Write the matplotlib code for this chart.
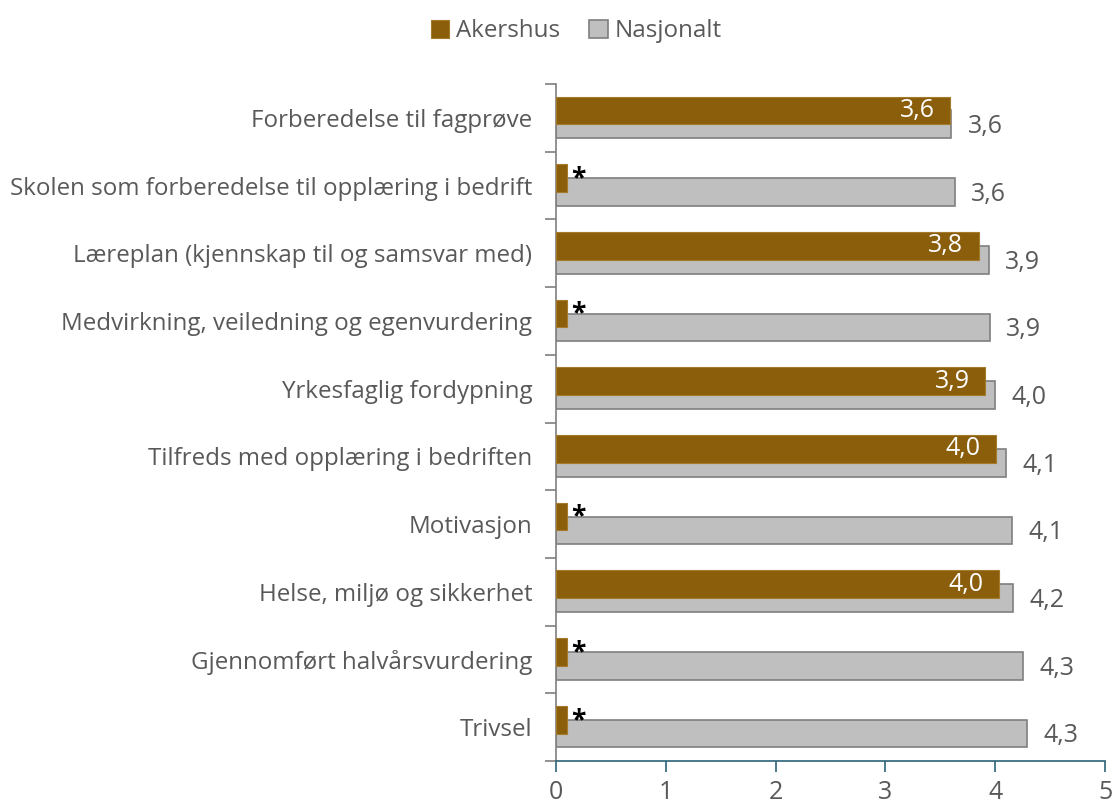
import matplotlib.pyplot as plt
import numpy as np

plt.rcParams['font.family'] = ['Open Sans', 'DejaVu Sans']

kategorier = [
    'Forberedelse til fagprøve',
    'Skolen som forberedelse til opplæring i bedrift',
    'Læreplan (kjennskap til og samsvar med)',
    'Medvirkning, veiledning og egenvurdering',
    'Yrkesfaglig fordypning',
    'Tilfreds med opplæring i bedriften',
    'Motivasjon',
    'Helse, miljø og sikkerhet',
    'Gjennomført halvårsvurdering',
    'Trivsel',
]
# None = for få svar (vises som *)
akershus = [3.59, None, 3.85, None, 3.91, 4.01, None, 4.03, None, None]
nasjonalt = [3.60, 3.63, 3.94, 3.95, 4.00, 4.10, 4.15, 4.16, 4.25, 4.29]
nasjonalt_tekst = ['3,6', '3,6', '3,9', '3,9', '4,0', '4,1', '4,1', '4,2', '4,3', '4,3']
akershus_tekst = ['3,6', '*', '3,8', '*', '3,9', '4,0', '*', '4,0', '*', '*']
stjerne_verdi = 0.1

gull = '#8B5E0C'
graa = '#BFBFBF'
tekstfarge = '#595959'
fs = 17.4

fig = plt.figure(figsize=(11.15, 8.06), dpi=100)
ax = fig.add_axes([0.4987, 0.0558, 0.4924, 0.840])

y = np.arange(len(kategorier))
h = 0.41

ak_verdier = [v if v is not None else stjerne_verdi for v in akershus]

ax.barh(y + 0.095, nasjonalt, height=h, color=graa, edgecolor='#7F7F7F',
        linewidth=1.2, zorder=2, label='Nasjonalt')
ax.barh(y - 0.11, ak_verdier, height=h, color=gull, edgecolor='#A47A2C',
        linewidth=0.8, zorder=3, label='Akershus')

for i in range(len(kategorier)):
    ax.text(nasjonalt[i] + 0.15, y[i] + 0.13, nasjonalt_tekst[i], va='center',
            ha='left', fontsize=fs + 0.6, color=tekstfarge)
    if akershus[i] is None:
        ax.text(stjerne_verdi + 0.04, y[i] - 0.1, '*', va='center', ha='left',
                fontsize=19, fontweight='bold', color='black', zorder=4)
    else:
        ax.text(akershus[i] - 0.14, y[i] - 0.11, akershus_tekst[i], va='center',
                ha='right', fontsize=fs + 0.6, color='white', zorder=4)

ax.set_xlim(0, 5)
ax.set_ylim(len(kategorier) - 0.5, -0.5)
ax.set_xticks(range(6))
ax.set_xticklabels([str(t) for t in range(6)])

ax.set_yticks(y)
ax.set_yticklabels(kategorier)
ax.set_yticks(np.arange(-0.5, len(kategorier), 1), minor=True)
ax.tick_params(axis='y', which='major', length=0, pad=17, labelsize=fs,
               labelcolor=tekstfarge)
ax.tick_params(axis='y', which='minor', length=8, width=1.2, color='#7F7F7F',
               direction='out')
ax.tick_params(axis='x', length=8, width=1.2, color='#2E6378',
               direction='out', labelsize=fs + 0.6, labelcolor=tekstfarge, pad=6)

for s in ['top', 'right']:
    ax.spines[s].set_visible(False)
ax.spines['left'].set_color('#7F7F7F')
ax.spines['left'].set_linewidth(1.2)
ax.spines['bottom'].set_color('#2E6378')
ax.spines['bottom'].set_linewidth(1.2)

handles, labels = ax.get_legend_handles_labels()
fig.legend(handles[::-1], labels[::-1], loc='upper center', ncol=2,
           bbox_to_anchor=(0.517, 1.003), frameon=False, fontsize=fs,
           labelcolor=tekstfarge, handlelength=0.75, handleheight=0.75,
           handletextpad=0.3, columnspacing=1.2)

fig.savefig('out.png', dpi=100)
